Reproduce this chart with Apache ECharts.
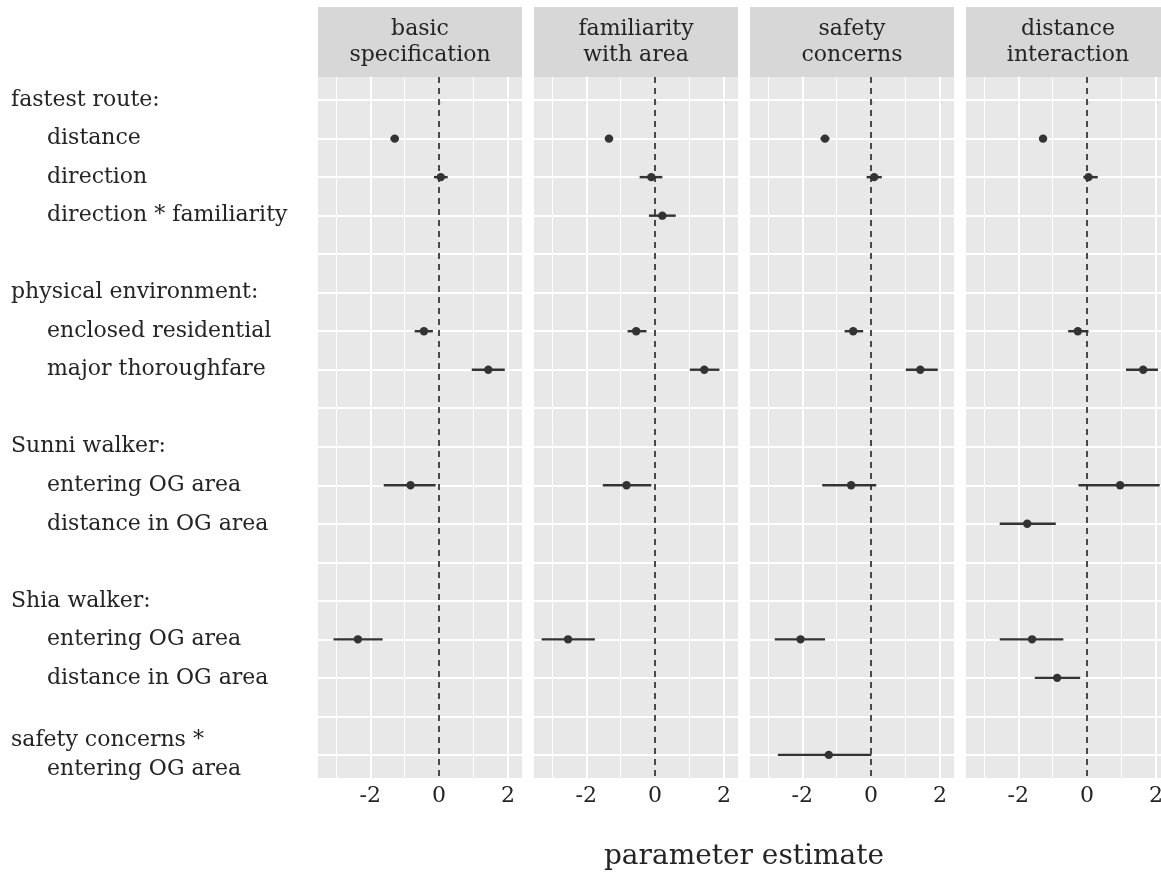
<!DOCTYPE html>
<html>
<head>
<meta charset="utf-8">
<title>parameter estimate</title>
<script src="https://cdn.jsdelivr.net/npm/echarts@6/dist/echarts.min.js"></script>
<style>
  html, body { margin: 0; padding: 0; background: #ffffff; overflow: hidden; }
  /* the last facet runs a little past the right edge of the window */
  #chart { width: 1176px; height: 879px; }
</style>
</head>
<body>
<div id="chart"></div>
<script>
// Row labels of the shared y axis (leading spaces mark indented sub-items)
const rowLabels = [
  'fastest route:',
  '   distance',
  '   direction',
  '   direction * familiarity',
  '',
  'physical environment:',
  '   enclosed residential',
  '   major thoroughfare',
  '',
  'Sunni walker:',
  '   entering OG area',
  '   distance in OG area',
  '',
  'Shia walker:',
  '   entering OG area',
  '   distance in OG area',
  '',
  'safety concerns *\n   entering OG area'
];

// Facet titles
const panelTitles = [
  'basic\nspecification',
  'familiarity\nwith area',
  'safety\nconcerns',
  'distance\ninteraction'
];

// x tick values and minor grid values
const xTicks = [-2, 0, 2];
const xMinor = [-3, -1, 1];

// Estimates per facet: [row index, estimate, lower, upper]
const basicSpecification = [
  [1, -1.29, -1.41, -1.17],
  [2, 0.05, -0.15, 0.25],
  [6, -0.44, -0.71, -0.18],
  [7, 1.43, 0.95, 1.91],
  [10, -0.83, -1.61, -0.10],
  [14, -2.36, -3.07, -1.64]
];
const familiarityWithArea = [
  [1, -1.34, -1.46, -1.22],
  [2, -0.11, -0.45, 0.21],
  [3, 0.21, -0.18, 0.60],
  [6, -0.55, -0.80, -0.25],
  [7, 1.43, 1.01, 1.87],
  [10, -0.83, -1.52, -0.11],
  [14, -2.53, -3.30, -1.75]
];
const safetyConcerns = [
  [1, -1.34, -1.47, -1.21],
  [2, 0.09, -0.13, 0.31],
  [6, -0.52, -0.77, -0.23],
  [7, 1.43, 1.01, 1.94],
  [10, -0.58, -1.42, 0.15],
  [14, -2.05, -2.80, -1.34],
  [17, -1.23, -2.71, 0.01]
];
const distanceInteraction = [
  [1, -1.28, -1.39, -1.17],
  [2, 0.04, -0.11, 0.31],
  [6, -0.27, -0.55, 0.04],
  [7, 1.63, 1.13, 2.06],
  [10, 0.96, -0.25, 2.11],
  [11, -1.74, -2.54, -0.91],
  [14, -1.60, -2.54, -0.69],
  [15, -0.87, -1.52, -0.20]
];
const panelData = [basicSpecification, familiarityWithArea, safetyConcerns, distanceInteraction];

// Layout
const FONT = 'DejaVu Serif';
const TEXT = '#242424';
const PANEL_LEFT = 318;
const PANEL_STEP = 216;
const PANEL_W = 204;
const PANEL_TOP = 77;
const PANEL_H = 701;
const STRIP_TOP = 7;
const STRIP_H = 70;
const X_MIN = -3.52, X_MAX = 2.41;
const rowIdx = rowLabels.map((_, i) => i);

const chart = echarts.init(document.getElementById('chart'), null, { renderer: 'canvas' });

function formatRow(v) {
  const label = rowLabels[Math.round(v)];
  if (!label) return '';
  return label.split('\n').map(line =>
    line.startsWith(' ') ? '{sub|' + line.trim() + '}' : '{head|' + line + '}'
  ).join('\n');
}

function renderInterval(params, api) {
  const row = api.value(0);
  const pLo = api.coord([api.value(2), row]);
  const pHi = api.coord([api.value(3), row]);
  const p = api.coord([api.value(1), row]);
  const color = '#333333';
  return {
    type: 'group',
    children: [
      { type: 'line', shape: { x1: pLo[0], y1: pLo[1], x2: pHi[0], y2: pHi[1] },
        style: { stroke: color, lineWidth: 2.4 } },
      { type: 'circle', shape: { cx: p[0], cy: p[1], r: 4.2 }, style: { fill: color } }
    ]
  };
}

const grids = [], xAxes = [], yAxes = [], series = [], graphics = [];

panelTitles.forEach((title, i) => {
  const left = PANEL_LEFT + i * PANEL_STEP;
  grids.push({ left: left, top: PANEL_TOP, width: PANEL_W, height: PANEL_H,
    show: true, backgroundColor: '#e8e8e8', borderWidth: 0 });

  xAxes.push({
    type: 'value', gridIndex: i, min: X_MIN, max: X_MAX,
    axisLine: { show: false },
    axisTick: { show: true, customValues: xTicks, length: 4, lineStyle: { color: '#333', width: 1.2 } },
    axisLabel: { customValues: xTicks, fontFamily: FONT, fontSize: 22, color: TEXT, margin: 7,
      formatter: v => String(v) },
    splitLine: { show: false }
  });

  yAxes.push({
    type: 'value', gridIndex: i, inverse: true, min: -0.6, max: 17.6,
    axisLine: { show: false },
    axisTick: { show: i === 0, customValues: rowIdx, length: 4, lineStyle: { color: '#333', width: 1.5 } },
    axisLabel: {
      show: i === 0, customValues: rowIdx, align: 'left', margin: 307,
      formatter: formatRow,
      rich: {
        head: { fontFamily: FONT, fontSize: 22, color: TEXT, lineHeight: 29 },
        sub: { fontFamily: FONT, fontSize: 22, color: TEXT, lineHeight: 29, padding: [0, 0, 0, 36] }
      }
    },
    splitLine: { show: false }
  });

  // white grid lines and the dashed reference line at zero
  const gridLines = [];
  rowIdx.forEach(r => gridLines.push({ yAxis: r, lineStyle: { color: '#ffffff', width: 2, type: 'solid' } }));
  xTicks.filter(v => v !== 0).forEach(v => gridLines.push({ xAxis: v, lineStyle: { color: '#ffffff', width: 2, type: 'solid' } }));
  xMinor.forEach(v => gridLines.push({ xAxis: v, lineStyle: { color: '#ffffff', width: 1, type: 'solid' } }));
  gridLines.push({ xAxis: 0, lineStyle: { color: '#4a4a4a', width: 2, type: [6, 5] } });

  series.push({
    type: 'custom', xAxisIndex: i, yAxisIndex: i, z: 3,
    renderItem: renderInterval,
    encode: { x: [1, 2, 3], y: 0 },
    data: panelData[i],
    silent: true,
    markLine: {
      silent: true, symbol: 'none', z: 1, animation: false,
      label: { show: false },
      data: gridLines
    }
  });

  // facet strip
  graphics.push({
    type: 'rect', left: left, top: STRIP_TOP, z: 0,
    shape: { width: PANEL_W, height: STRIP_H },
    style: { fill: '#d7d7d7' }
  });
  graphics.push({
    type: 'text', x: left + PANEL_W / 2, y: STRIP_TOP + STRIP_H / 2, z: 1,
    style: { text: title, font: '22px "' + FONT + '"', fill: TEXT,
      align: 'center', verticalAlign: 'middle', lineHeight: 26 }
  });
});

// axis title centred under the facets
graphics.push({
  type: 'text', x: PANEL_LEFT + (3 * PANEL_STEP + PANEL_W) / 2, y: 857,
  style: { text: 'parameter estimate', font: '28px "' + FONT + '"', fill: TEXT,
    align: 'center', verticalAlign: 'middle' }
});

chart.setOption({
  animation: false,
  backgroundColor: '#ffffff',
  grid: grids,
  xAxis: xAxes,
  yAxis: yAxes,
  series: series,
  graphic: graphics
});
</script>
</body>
</html>
